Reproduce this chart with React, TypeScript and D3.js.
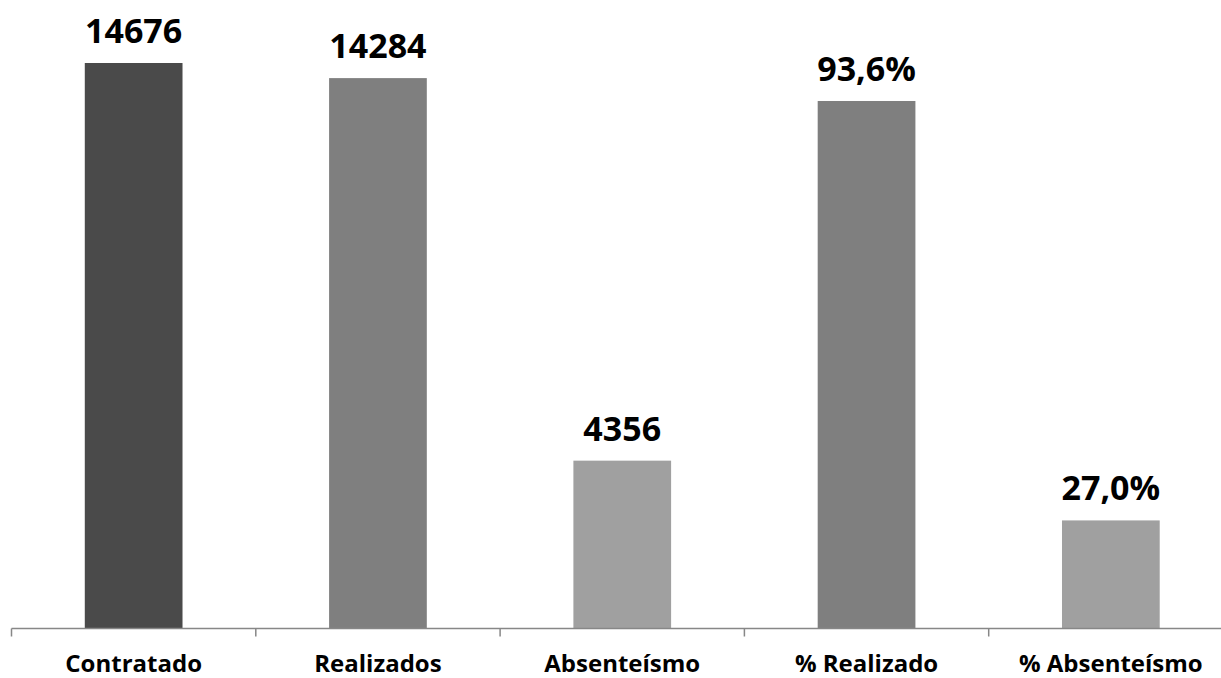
import React from "react";
import * as d3 from "d3";

const categories = ["Contratado", "Realizados", "Absenteísmo", "% Realizado", "% Absenteísmo"];
const values = [14676, 14284, 4356, 13690, 2805];
const valueLabels = ["14676", "14284", "4356", "93,6%", "27,0%"];
const colors = ["#4a4a4a", "#7f7f7f", "#a0a0a0", "#7f7f7f", "#a0a0a0"];

const W = 1221;
const H = 678;
const baseY = 628.5;
const x0 = 11.5;
const x1 = 1233;

export default function App() {
  const x = d3.scaleBand<string>().domain(categories).range([x0, x1]).paddingInner(0.6).paddingOuter(0.3);
  const y = d3.scaleLinear().domain([0, d3.max(values) as number]).range([baseY, 63]);
  const step = x.step();
  const ticks = d3.range(categories.length + 1).map((i) => x0 + i * step);
  const font = "'Open Sans', 'Liberation Sans', sans-serif";
  return (
    <svg width={W} height={H} style={{ position: "absolute", left: 0, top: 0, background: "#fff" }}>
      {categories.map((c, i) => {
        const bx = x(c) as number;
        const top = y(values[i]);
        return (
          <g key={c}>
            <rect x={bx} y={top} width={x.bandwidth()} height={baseY - top} fill={colors[i]} />
            <text x={bx + x.bandwidth() / 2} y={top - 20} textAnchor="middle" fontFamily={font} fontWeight="bold" fontSize={34} fill="#000">
              {valueLabels[i]}
            </text>
            <text x={bx + x.bandwidth() / 2} y={671.5} textAnchor="middle" fontFamily={font} fontWeight="bold" fontSize={24} fill="#000">
              {c}
            </text>
          </g>
        );
      })}
      <line x1={x0} x2={x1} y1={baseY} y2={baseY} stroke="#878787" strokeWidth={1.5} />
      {ticks.map((t, i) => (
        <line key={i} x1={t} x2={t} y1={baseY} y2={baseY + 8} stroke="#878787" strokeWidth={1.5} />
      ))}
    </svg>
  );
}
